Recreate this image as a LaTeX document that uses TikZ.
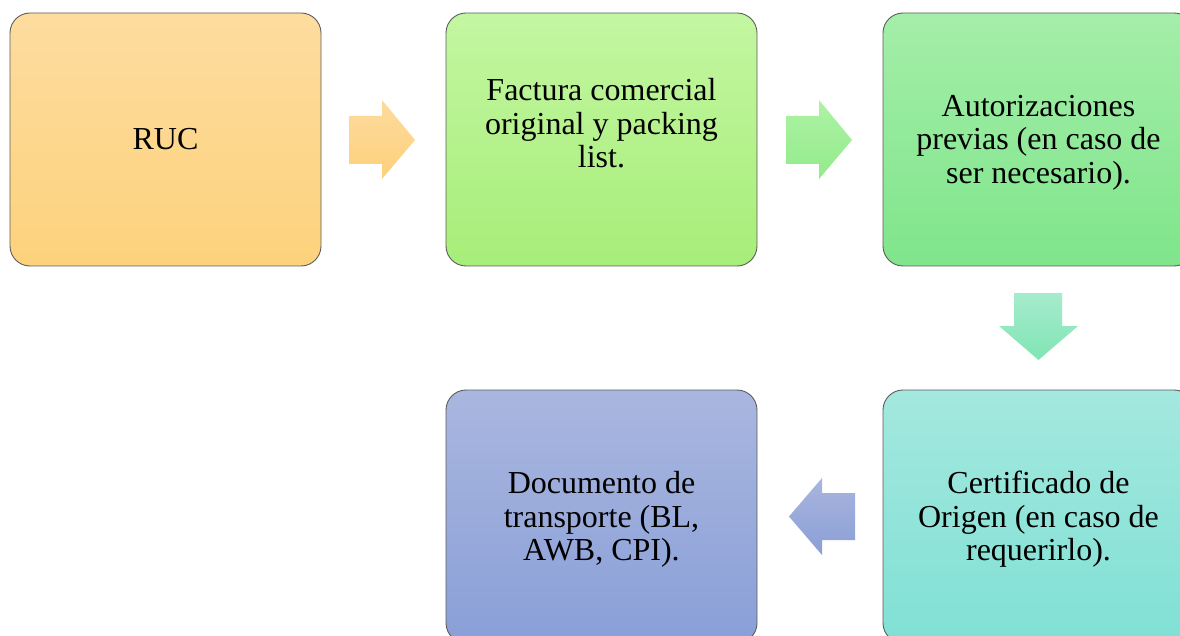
\documentclass[tikz,border=0pt]{standalone}
\usepackage{fontspec}
\setmainfont{Liberation Serif}
\newfontfamily\tnr{Liberation Serif}
\definecolor{bordergray}{HTML}{5C5C5C}
\definecolor{oTop}{HTML}{FDDC9F}\definecolor{oBot}{HTML}{FDD27C}
\definecolor{gTop}{HTML}{C3F6A1}\definecolor{gBot}{HTML}{A7EE79}
\definecolor{mTop}{HTML}{A4EEA9}\definecolor{mBot}{HTML}{7FE58B}
\definecolor{tTop}{HTML}{A4E8DF}\definecolor{tBot}{HTML}{80E0D4}
\definecolor{bTop}{HTML}{A9B7DF}\definecolor{bBot}{HTML}{8A9FD8}
\definecolor{a1Top}{HTML}{FDDB9E}\definecolor{a1Bot}{HTML}{FDD07B}
\definecolor{a2Top}{HTML}{AEF2A4}\definecolor{a2Bot}{HTML}{92EB8B}
\definecolor{a3Top}{HTML}{A6EBCD}\definecolor{a3Bot}{HTML}{80E5B4}
\definecolor{a4Top}{HTML}{AAB5DF}\definecolor{a4Bot}{HTML}{8A9ED6}
\tikzset{
  boxtext/.style={align=center, inner sep=0pt, font=\tnr\fontsize{32}{33.5}\selectfont},
  stepbox/.style={boxtext, draw=bordergray, line width=0.9pt, rounded corners=20pt,
    minimum width=311pt, minimum height=253pt, outer sep=0pt}
}
\begin{document}
\begin{tikzpicture}[x=1pt,y=-1pt]
\useasboundingbox (0,0) rectangle (1180,636);
\clip (0,0) rectangle (1180,636);
\node[stepbox, top color=oTop, bottom color=oBot] (ruc) at (165.5,139.5) {RUC};
\node[stepbox, top color=gTop, bottom color=gBot] (fac) at (601.5,139.5) {};
\node[boxtext] (factext) at ([yshift=16pt]fac.center) {Factura comercial\\original y packing\\list.};
\node[stepbox, top color=mTop, bottom color=mBot] (aut) at (1038.5,139.5) {};
\node[boxtext] (auttext) at ([yshift=-3pt]aut.center) {Autorizaciones\\previas (en caso de\\ser necesario).};
\node[stepbox, top color=tTop, bottom color=tBot] (cer) at (1038.5,516.5) {};
\node[boxtext] (certext) at ([yshift=-3pt]cer.center) {Certificado de\\Origen (en caso de\\requerirlo).};
\node[stepbox, top color=bTop, bottom color=bBot] (doc) at (601.5,516.5) {};
\node[boxtext] (doctext) at ([yshift=-3pt]doc.center) {Documento de\\transporte (BL,\\AWB, CPI).};
% block arrows
\shade[top color=a1Top, bottom color=a1Bot] (349,116) -- (382,116) -- (382,100) -- (415,140) -- (382,179) -- (382,164) -- (349,164) -- cycle;
\shade[top color=a2Top, bottom color=a2Bot] (786,116) -- (819,116) -- (819,100) -- (852,140) -- (819,179) -- (819,164) -- (786,164) -- cycle;
\shade[top color=a3Top, bottom color=a3Bot] (1014,293) -- (1062,293) -- (1062,326) -- (1078,326) -- (1038.5,360) -- (999,326) -- (1014,326) -- cycle;
\shade[top color=a4Top, bottom color=a4Bot] (855,493) -- (822,493) -- (822,478) -- (789,516.5) -- (822,555) -- (822,540) -- (855,540) -- cycle;
\end{tikzpicture}
\end{document}
